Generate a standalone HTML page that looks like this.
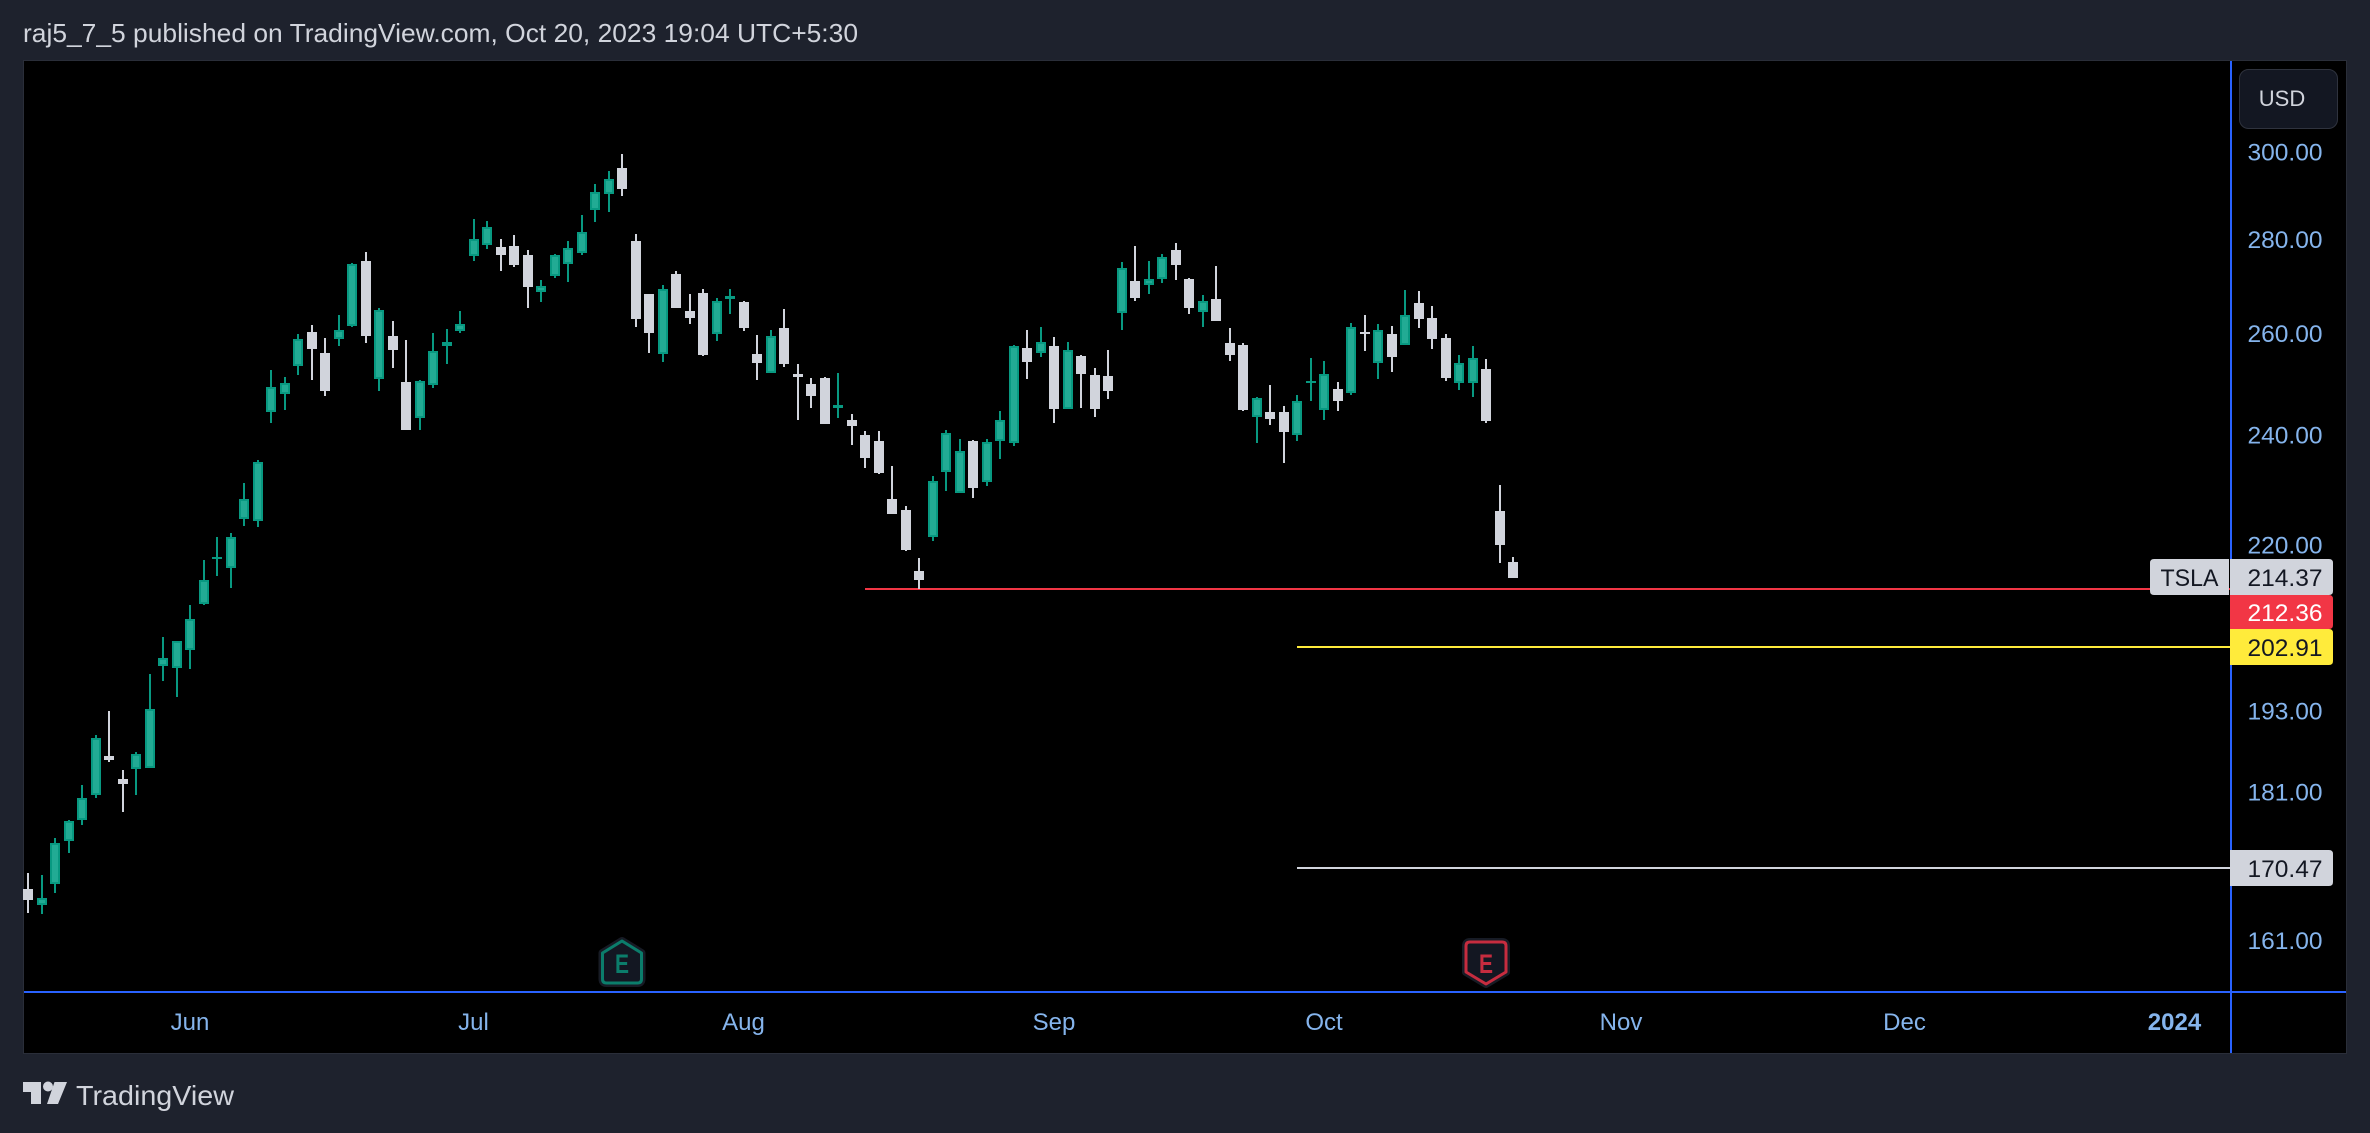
<!DOCTYPE html>
<html lang="en">
<head>
<meta charset="utf-8">
<title>TSLA chart published on TradingView</title>
<style>
html,body{margin:0;padding:0;background:#1e222d;width:2370px;height:1133px;overflow:hidden}
svg{display:block}
text{font-family:"Liberation Sans",sans-serif}
</style>
</head>
<body>
<svg id="chart" xmlns="http://www.w3.org/2000/svg" width="2370" height="1133" viewBox="0 0 2370 1133">
  <rect x="0" y="0" width="2370" height="1133" fill="#1e222d"/>
  <text x="23" y="42" font-size="26" fill="#d1d4dc" textLength="835" lengthAdjust="spacingAndGlyphs">raj5_7_5 published on TradingView.com, Oct 20, 2023 19:04 UTC+5:30</text>
  <rect x="23.5" y="60.5" width="2323" height="993" fill="#000" stroke="#2a2e39" stroke-width="1"/>
  <clipPath id="pane-clip"><rect x="23" y="61" width="2207" height="930"/></clipPath>
  <g id="level-lines"></g>
  <g id="candles" clip-path="url(#pane-clip)"></g>
  <g id="earnings"></g>
  <rect x="24" y="991" width="2322" height="2" fill="#2962ff"/>
  <rect x="2230" y="61" width="2" height="992" fill="#2962ff"/>
  <g id="price-ticks"></g>
  <g id="time-ticks"></g>
  <g id="price-labels"></g>
  <g>
    <rect x="2239.5" y="69.5" width="98" height="59" rx="9" fill="#131722" stroke="#2f333e"/>
    <text x="2282" y="106" font-size="22" fill="#d1d4dc" text-anchor="middle">USD</text>
  </g>
  <g>
    <path fill="#d1d4dc" d="M23 1082H41V1104H31V1092H23ZM54.500 1082H67L58 1104H47Z"/>
    <circle cx="48" cy="1086.500" r="5" fill="#d1d4dc"/>
    <text x="76" y="1105" font-size="28" fill="#d1d4dc" textLength="158" lengthAdjust="spacingAndGlyphs">TradingView</text>
  </g>
</svg>
<script>
// Daily candles, oldest first (USD)
const opens = [167.69,165.57,168.36,174.16,177.09,180.59,186.24,182.91,184.36,184.50,199.97,199.66,202.48,209.98,217.58,216.06,224.58,224.23,244.37,247.85,253.41,260.31,255.99,258.86,261.55,275.30,250.83,259.48,250.23,243.22,249.64,257.41,260.52,276.38,278.79,278.34,278.56,276.60,268.64,272.08,274.66,277.03,286.61,290.24,296.29,279.68,268.21,255.80,272.51,264.65,268.43,259.90,267.14,266.51,255.80,252.02,261.13,251.82,249.84,251.03,245.13,242.84,239.98,238.83,228.12,226.17,215.55,221.41,233.08,229.22,238.83,231.24,238.83,238.45,257.00,255.99,257.41,244.94,255.40,251.63,251.43,264.23,271.01,270.15,271.44,277.67,271.44,264.44,267.14,258.03,257.62,243.41,244.37,244.37,239.98,250.04,244.75,248.84,248.05,260.31,254.01,259.90,257.62,266.30,263.20,259.07,250.04,250.04,252.82,226.00,217.07];
const highs = [169.83,169.56,174.58,177.09,182.04,189.37,192.99,184.21,186.82,198.72,204.60,203.95,209.81,217.41,221.41,222.11,231.06,235.28,252.62,251.23,259.90,261.75,259.07,263.82,274.87,277.24,265.27,262.58,258.66,250.63,260.10,260.93,264.65,284.60,284.15,280.13,281.02,277.67,271.22,276.81,279.68,285.50,292.57,295.59,299.54,281.25,268.21,270.15,273.16,268.21,269.29,267.35,269.29,266.71,259.69,260.72,265.06,253.81,251.03,251.23,252.02,243.99,240.74,240.74,234.18,226.88,217.75,232.34,240.93,239.21,239.02,239.21,244.56,257.62,260.72,261.34,259.28,258.25,255.60,253.02,256.59,275.09,278.56,275.30,276.81,279.24,271.65,268.00,274.23,261.13,258.03,247.25,249.64,245.51,247.65,255.00,254.41,250.23,262.17,263.82,261.96,261.55,269.07,268.86,265.68,259.90,255.60,257.41,254.80,230.69,217.92];
const lows = [164.52,164.39,167.16,172.51,176.39,180.16,185.37,178.20,180.59,184.50,197.63,195.12,199.50,209.81,214.70,212.67,223.35,223.17,242.27,244.75,251.63,250.63,247.45,257.41,261.34,258.03,248.45,253.02,240.93,240.93,249.04,253.81,260.10,275.30,277.89,273.16,274.02,265.27,266.51,271.65,270.79,276.60,283.93,286.16,289.78,261.34,255.99,254.21,265.27,261.96,255.40,258.45,264.03,260.52,250.63,252.02,253.21,242.84,245.13,242.08,243.22,238.06,233.81,232.71,225.47,218.94,212.50,220.70,229.59,229.22,228.31,230.51,235.46,237.87,250.83,255.20,242.27,244.94,245.13,243.41,246.86,260.72,266.71,268.21,270.58,271.22,264.03,261.34,262.58,254.41,244.56,238.45,241.89,234.73,238.83,246.47,242.84,244.56,247.65,256.39,250.83,252.22,257.62,261.13,256.80,250.43,248.65,247.25,242.27,216.91,214.37];
const closes = [166.22,166.49,173.88,176.95,180.16,188.92,185.66,182.19,186.53,193.29,201.23,203.95,207.53,214.02,217.92,221.41,228.12,234.91,249.24,250.04,258.86,256.80,248.45,260.72,274.66,259.48,264.85,256.59,240.93,250.43,256.39,258.25,261.96,280.13,282.81,276.60,274.45,269.72,269.93,276.60,278.12,281.69,290.71,293.73,291.41,262.99,260.10,269.29,265.27,263.20,255.60,266.71,267.78,261.13,254.01,259.48,253.81,251.23,247.45,242.08,245.70,241.69,235.64,232.89,225.47,219.11,214.02,231.43,240.36,236.93,230.13,238.64,242.84,257.41,254.21,258.25,244.94,256.59,251.82,244.94,248.45,273.80,267.35,271.44,276.16,274.45,265.27,266.71,262.58,255.60,244.75,247.06,243.03,240.55,246.47,250.43,251.82,246.47,261.34,259.90,260.72,255.20,263.82,262.99,258.86,251.03,254.01,255.00,242.65,219.99,214.37];

// Axis ticks
const priceTicks = [300,280,260,240,220,193,181,161];
const monthLabels = ['Jun','Jul','Aug','Sep','Oct','Nov','Dec','2024'];
const monthBarIndex = [12,33,53,76,96,118,139,159];
const monthIsBold = [false,false,false,false,false,false,false,true];

// Drawn horizontal levels
const levelPrices = [212.36,202.91,170.47];
const levelStartBar = [62,94,94];
const levelColors = ['#f23645','#ffeb3b','#d1d4dc'];
const levelNames = ['support-line-red','target-line-yellow','target-line-white'];

// Earnings events
const earningsBars = [44,108];
const earningsKinds = ['past','upcoming'];

const NS = 'http://www.w3.org/2000/svg';
function xScale(i){ return 28 + 13.5 * i; }
function yScale(p){ return 152 + Math.log(300 / p) * 1266.8; }
function make(tag, parent, attrs, text){
  const el = document.createElementNS(NS, tag);
  for (const k in attrs) el.setAttribute(k, attrs[k]);
  if (text !== undefined) el.textContent = text;
  parent.appendChild(el);
  return el;
}

// Candles
const candleLayer = document.getElementById('candles');
opens.forEach(function(o, i){
  const c = closes[i];
  const up = c >= o;
  const line = up ? '#089981' : '#d1d4dc';
  const cx = Math.round(xScale(i));
  const top = Math.round(yScale(Math.max(o, c)));
  const bottom = Math.max(top + 1, Math.round(yScale(Math.min(o, c))));
  const hi = Math.round(yScale(highs[i]));
  const lo = Math.round(yScale(lows[i]));
  const g = make('g', candleLayer, {});
  
  
  const wick = make('rect', g, {x: cx - 1, y: hi, width: 2, height: Math.max(lo - hi, 1), fill: line});
  
  
  const body = make('rect', g, {x: cx - 5, y: top, width: 10, height: bottom - top, fill: line});
  
  
  if (up && bottom - top > 4) {
    const inner = make('rect', g, {x: cx - 3, y: top + 2, width: 6, height: bottom - top - 4, fill: '#22ab94'});
    
    
  }
});

// Horizontal levels
const levelLayer = document.getElementById('level-lines');
levelPrices.forEach(function(p, i){
  const start = xScale(levelStartBar[i]) - 1;
  const ln = make('rect', levelLayer, {x: Math.round(start + 0.5), y: Math.round(yScale(p) - 1.5), width: 2230 - Math.round(start + 0.5), height: 2, fill: levelColors[i]});
  
  
});

// Price ticks
const tickLayer = document.getElementById('price-ticks');
priceTicks.forEach(function(p){
  const t = make('text', tickLayer, {x: 2285, y: (yScale(p) + 8.6).toFixed(1), 'font-size': 24, fill: '#85b4ec', 'text-anchor': 'middle', textLength: 75, lengthAdjust: 'spacingAndGlyphs'}, p.toFixed(2));
  
  
});

// Time ticks
const timeLayer = document.getElementById('time-ticks');
monthLabels.forEach(function(m, i){
  const t = make('text', timeLayer, {x: xScale(monthBarIndex[i]), y: 1030, 'font-size': 24, fill: '#85b4ec', 'text-anchor': 'middle', 'font-weight': monthIsBold[i] ? 'bold' : 'normal'}, m);
  
  
});

// Price labels on the axis
function pillPath(x, y, w, h, r){
  return 'M' + x + ' ' + y + 'H' + (x + w - r) + 'Q' + (x + w) + ' ' + y + ' ' + (x + w) + ' ' + (y + r) + 'V' + (y + h - r) + 'Q' + (x + w) + ' ' + (y + h) + ' ' + (x + w - r) + ' ' + (y + h) + 'H' + x + 'Z';
}
const labelLayer = document.getElementById('price-labels');
const lastClose = closes[closes.length - 1];
const lastTop = Math.round(yScale(lastClose) - 18.8);
const lastBottom = lastTop + 36;
const yellowTop = Math.round(yScale(levelPrices[1]) - 18.4);
const yellowBottom = yellowTop + 36;
const whiteTop = Math.round(yScale(levelPrices[2]) - 18);
const whiteBottom = whiteTop + 36;

const symbolPill = make('path', labelLayer, {d: 'M2229 ' + lastTop + 'H2154Q2150 ' + lastTop + ' 2150 ' + (lastTop + 4) + 'V' + (lastBottom - 4) + 'Q2150 ' + lastBottom + ' 2154 ' + lastBottom + 'H2229Z', fill: '#d1d4dc'});


const symbolText = make('text', labelLayer, {x: 2189.5, y: lastTop + 27, 'font-size': 24, fill: '#131722', 'text-anchor': 'middle', textLength: 58, lengthAdjust: 'spacingAndGlyphs'}, 'TSLA');



const lastPill = make('path', labelLayer, {d: pillPath(2230, lastTop, 103, 36, 4), fill: '#d1d4dc'});


const lastText = make('text', labelLayer, {x: 2285, y: lastTop + 27, 'font-size': 24, fill: '#131722', 'text-anchor': 'middle', textLength: 75, lengthAdjust: 'spacingAndGlyphs'}, lastClose.toFixed(2));



const redPill = make('path', labelLayer, {d: pillPath(2230, lastBottom, 103, yellowTop - lastBottom, 4), fill: '#f23645'});


const redText = make('text', labelLayer, {x: 2285, y: lastBottom + 26, 'font-size': 24, fill: '#ffffff', 'text-anchor': 'middle', textLength: 75, lengthAdjust: 'spacingAndGlyphs'}, levelPrices[0].toFixed(2));



const yellowPill = make('path', labelLayer, {d: pillPath(2230, yellowTop, 103, 36, 4), fill: '#ffeb3b'});


const yellowText = make('text', labelLayer, {x: 2285, y: yellowTop + 27, 'font-size': 24, fill: '#131722', 'text-anchor': 'middle', textLength: 75, lengthAdjust: 'spacingAndGlyphs'}, levelPrices[1].toFixed(2));



const whitePill = make('path', labelLayer, {d: pillPath(2230, whiteTop, 103, whiteBottom - whiteTop, 4), fill: '#d1d4dc'});


const whiteText = make('text', labelLayer, {x: 2285, y: whiteTop + 27, 'font-size': 24, fill: '#131722', 'text-anchor': 'middle', textLength: 75, lengthAdjust: 'spacingAndGlyphs'}, levelPrices[2].toFixed(2));



// Earnings markers (pinned to the bottom of the pane)
const earningsLayer = document.getElementById('earnings');
earningsBars.forEach(function(bar, i){
  const cx = xScale(bar);
  const past = earningsKinds[i] === 'past';
  const color = past ? '#0b7d6b' : '#c62c3f';
  const d = past
    ? 'M' + cx + ' 941L' + (cx + 19.5) + ' 953V979Q' + (cx + 19.5) + ' 983 ' + (cx + 15.5) + ' 983H' + (cx - 15.5) + 'Q' + (cx - 19.5) + ' 983 ' + (cx - 19.5) + ' 979V953Z'
    : 'M' + (cx - 16) + ' 942H' + (cx + 16) + 'Q' + (cx + 20) + ' 942 ' + (cx + 20) + ' 946V972L' + cx + ' 984L' + (cx - 20) + ' 972V946Q' + (cx - 20) + ' 942 ' + (cx - 16) + ' 942Z';
  const g = make('g', earningsLayer, {});
  
  
  make('path', g, {d: d, fill: '#131722', stroke: '#171b25', 'stroke-width': 8, 'stroke-linejoin': 'round'});
  make('path', g, {d: d, fill: '#131722', stroke: color, 'stroke-width': 3, 'stroke-linejoin': 'round'});
  const t = make('text', g, {x: cx, y: 973, 'font-size': 27, 'font-weight': 'bold', fill: color, 'text-anchor': 'middle', textLength: 14, lengthAdjust: 'spacingAndGlyphs'}, 'E');
  
  
});
</script>
</body>
</html>
